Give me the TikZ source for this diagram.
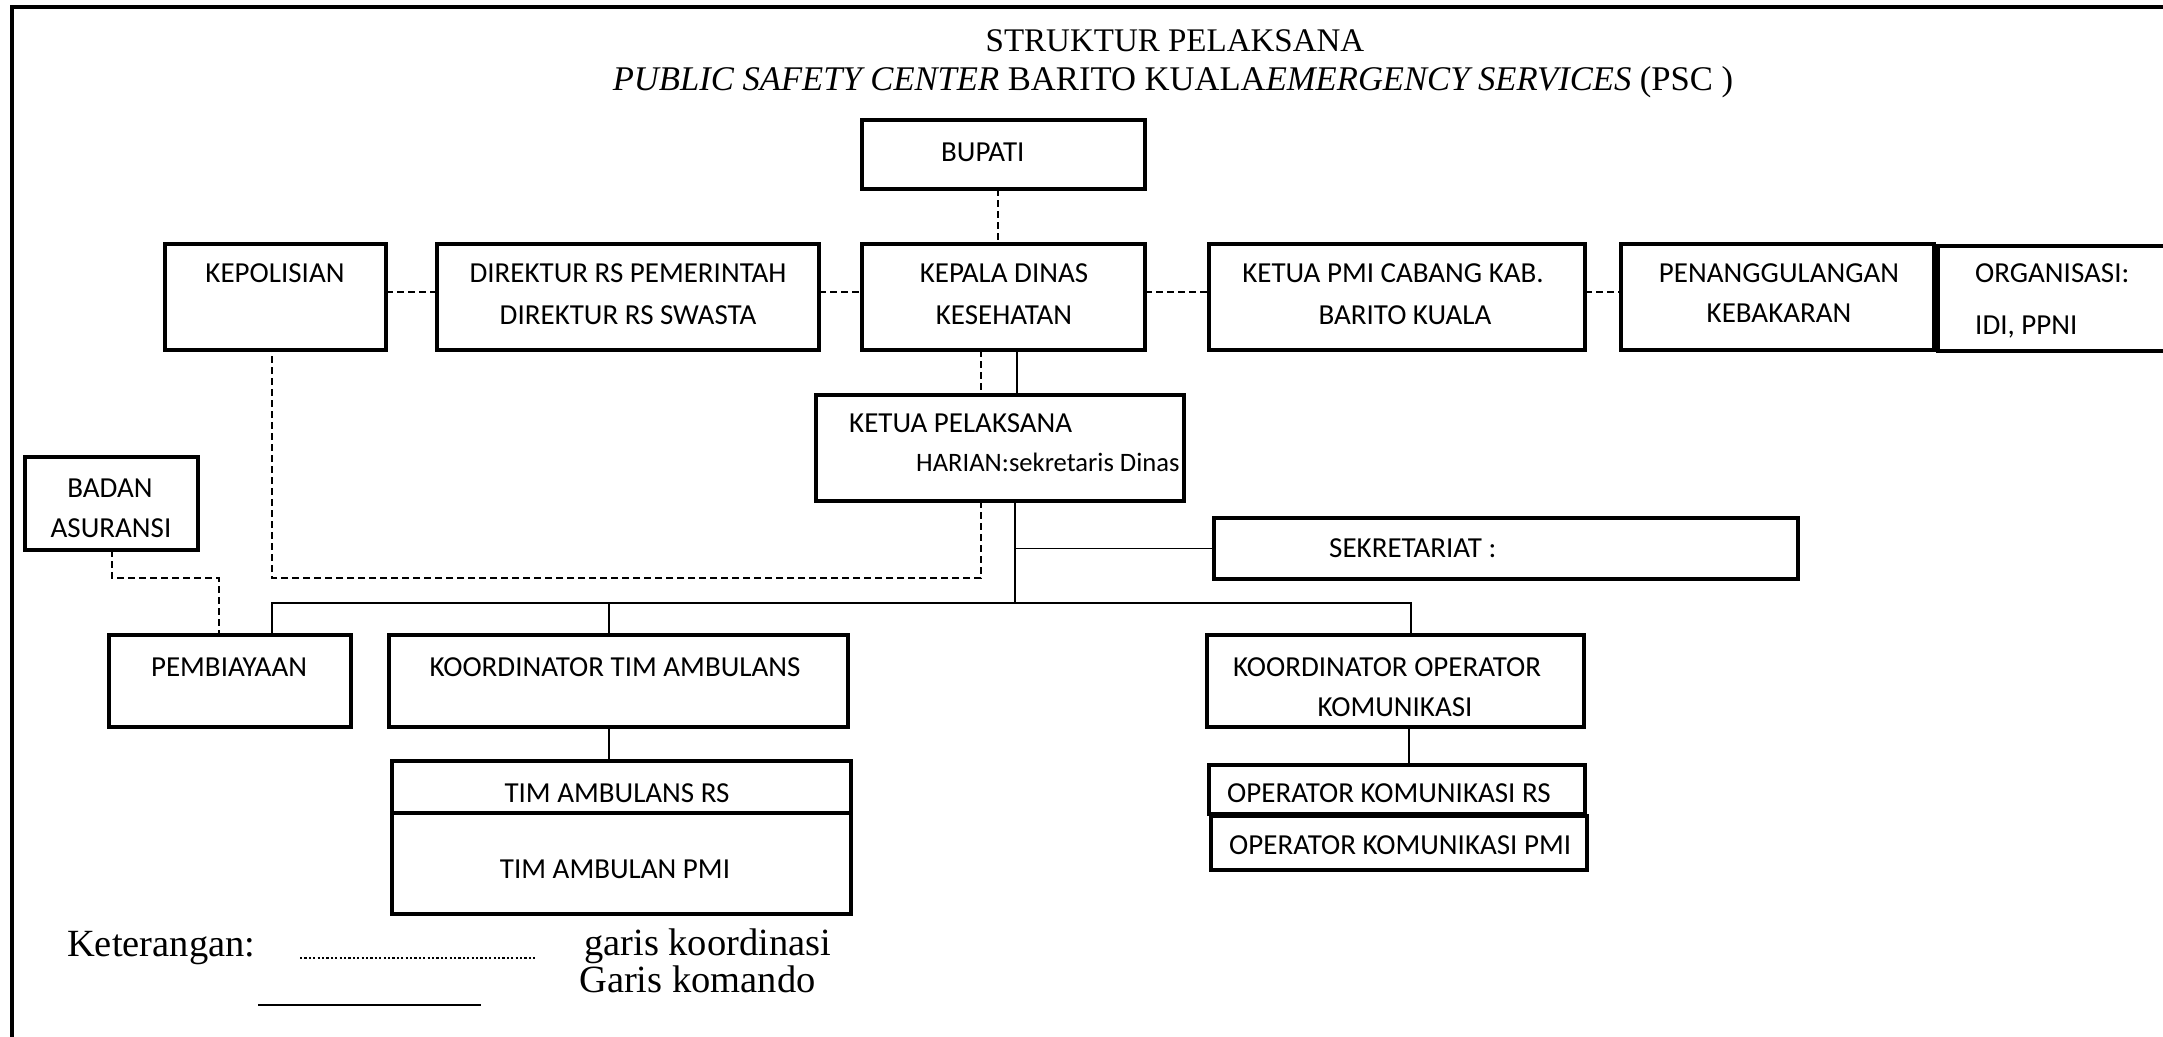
\documentclass[tikz,border=0pt]{standalone}
\usepackage{fontspec}
\setmainfont{Liberation Serif}
\newfontfamily\boxfont{Carlito}
\newcommand\mkbox[5]{\node[box, minimum width={#4-#2}, minimum height={#5-#3}] (#1) at ({(#2+#4)/2},{(#3+#5)/2}) {};}
\begin{document}
\begin{tikzpicture}[x=1pt,y=-1pt,
  box/.style={draw, line width=4.5pt, inner sep=0pt, outer sep=0pt, fill=white},
  lbl/.style={font=\boxfont\fontsize{29}{35}\selectfont, inner sep=0pt, anchor=base},
  lblw/.style={lbl, anchor=base west},
  cmd/.style={line width=1.4pt},
  crd/.style={line width=1.7pt, dash pattern=on 7pt off 4pt},
  ttl/.style={font=\fontsize{33}{40}\selectfont, inner sep=0pt, anchor=base},
  leg/.style={font=\fontsize{38.5}{46}\selectfont, inner sep=0pt, anchor=base west}]
\useasboundingbox (0,0) rectangle (2163,1036);
\fill[white] (0,0) rectangle (2163,1036);
% frame
\draw[line width=4.5pt] (12,1045) -- (12,7) -- (2175,7);
% title
\node[ttl] (t1) at (1175,51) {STRUKTUR PELAKSANA};
\node[ttl, font=\fontsize{34.6}{40}\selectfont] (t2) at (1173,90) {\textit{PUBLIC SAFETY CENTER} BARITO KUALA\textit{EMERGENCY SERVICES} (PSC )};
% helper coordinates
\coordinate (ux) at (998,0);
\coordinate (dx) at (981,0);
\coordinate (dj) at (981,578);
\coordinate (kj) at (272,578);
\coordinate (bj1) at (112,578);
\coordinate (bj2) at (219,578);
\coordinate (sx1) at (1017,0);
\coordinate (sx2) at (1015,0);
\coordinate (bl) at (272,603);
\coordinate (bm) at (1015,603);
\coordinate (br) at (1411,603);
\coordinate (bt) at (609,603);
\coordinate (opx) at (1409,0);
% boxes
\mkbox{bupati}{862}{120}{1145}{189}
\mkbox{kepol}{165}{244}{386}{350}
\mkbox{direk}{437}{244}{819}{350}
\mkbox{kepala}{862}{244}{1145}{350}
\mkbox{pmi}{1209}{244}{1585}{350}
\mkbox{penang}{1621}{244}{1934}{350}
\mkbox{org}{1938}{246}{2190}{351}
\mkbox{kp}{816}{395}{1184}{501}
\mkbox{badan}{25}{457}{198}{550}
\mkbox{sek}{1214}{518}{1798}{579}
\mkbox{pemb}{109}{635}{351}{727}
\mkbox{ktim}{389}{635}{848}{727}
\mkbox{kop}{1207}{635}{1584}{727}
\mkbox{timrs}{392}{761}{851}{813}
\mkbox{timpmi}{392}{813}{851}{914}
\mkbox{oprs}{1209}{765}{1585}{814}
\mkbox{oppmi}{1211}{816}{1587}{870}
% coordination lines (dashed)
\draw[crd] (bupati.south -| ux) -- (kepala.north -| ux);
\draw[crd] ([yshift=5pt]kepol.east) -- ([yshift=5pt]direk.west);
\draw[crd] ([yshift=5pt]direk.east) -- ([yshift=5pt]kepala.west);
\draw[crd] ([yshift=5pt]kepala.east) -- ([yshift=5pt]pmi.west);
\draw[crd] ([yshift=5pt]pmi.east) -- ([yshift=5pt]penang.west);
\draw[crd] (kepala.south -| dx) -- (kp.north -| dx);
\draw[crd] (kp.south -| dx) -- (dj) -- (kj) -- (kepol.south -| kj);
\draw[crd] (badan.south -| bj1) -- (bj1) -- (bj2) -- (pemb.north -| bj2);
% command lines (solid)
\draw[cmd] (kepala.south -| sx1) -- (kp.north -| sx1);
\draw[cmd] (kp.south -| sx2) -- (bm);
\draw[cmd] (sek.west -| sx2) -- (sek.west);
\draw[cmd] (pemb.north -| bl) -- (bl) -- (br) -- (kop.north -| br);
\draw[cmd] (bt) -- (ktim.north -| bt);
\draw[cmd] (ktim.south -| bt) -- (timrs.north -| bt);
\draw[cmd] (kop.south -| opx) -- (oprs.north -| opx);
% labels
\node[lblw] (l1) at (941,161) {BUPATI};
\node[lbl] (l2) at (275,282) {KEPOLISIAN};
\node[lbl] (l3) at (628,282) {DIREKTUR RS PEMERINTAH};
\node[lbl] (l4) at (628,324) {DIREKTUR RS SWASTA};
\node[lbl] (l5) at (1004,282) {KEPALA DINAS};
\node[lbl] (l6) at (1004,324) {KESEHATAN};
\node[lbl] (l7) at (1393,282) {KETUA PMI CABANG KAB.};
\node[lbl] (l8) at (1405,324) {BARITO KUALA};
\node[lbl] (l9) at (1779,282) {PENANGGULANGAN};
\node[lbl] (l10) at (1779,322) {KEBAKARAN};
\node[lblw] (l11) at (1975,282) {ORGANISASI:};
\node[lblw] (l12) at (1975,334) {IDI, PPNI};
\node[lblw] (l13) at (849,432) {KETUA PELAKSANA};
\node[lblw, font=\boxfont\fontsize{26.6}{32}\selectfont] (l14) at (916,471) {HARIAN:sekretaris Dinas};
\node[lbl] (l15) at (110,497) {BADAN};
\node[lbl] (l16) at (111,537) {ASURANSI};
\node[lblw] (l17) at (1329,557) {SEKRETARIAT :};
\node[lbl] (l18) at (229,676) {PEMBIAYAAN};
\node[lbl] (l19) at (615,676) {KOORDINATOR TIM AMBULANS};
\node[lblw] (l20) at (1233,676) {KOORDINATOR OPERATOR};
\node[lbl] (l21) at (1395,716) {KOMUNIKASI};
\node[lbl] (l22) at (617,802) {TIM AMBULANS RS};
\node[lbl] (l23) at (615,878) {TIM AMBULAN PMI};
\node[lblw] (l24) at (1227,802) {OPERATOR KOMUNIKASI RS};
\node[lblw] (l25) at (1229,854) {OPERATOR KOMUNIKASI PMI};
% legend
\node[leg] (k) at (67,956) {Keterangan:};
\coordinate (d1) at (300,958);
\coordinate (d2) at (535,958);
\draw[line width=2.8pt, dash pattern=on 2.2pt off 2.2pt] (d1) -- (d2);
\node[leg] (gk) at (584,955) {garis koordinasi};
\node[leg] (gm) at (579,992) {Garis komando};
\coordinate (s1) at (258,1005);
\coordinate (s2) at (481,1005);
\draw[line width=1.6pt] (s1) -- (s2);
\end{tikzpicture}
\end{document}
